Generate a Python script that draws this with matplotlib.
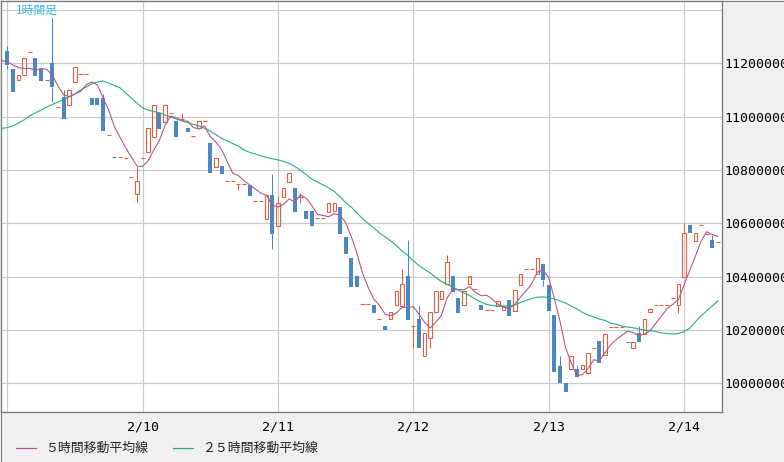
import numpy as np
import pandas as pd
import matplotlib.pyplot as plt
from matplotlib.patches import Rectangle
from matplotlib.lines import Line2D

# ==========================================
# Data : hourly candles from 2/9 00:00 (thousand yen)
# ==========================================

opens = [
    11246, 11179, 11136, 11155, 11242, 11220, 11179, 11138, 11202, 11035,
    11073, 11043, 11130, 11160, 11160, 11071, 11071, 11071, 10930, 10849,
    10848, 10844, 10773, 10709, 10844, 10868, 10925, 11015, 10981, 11013,
    10985, 10988, 10958, 10928, 10956, 10983, 10902, 10812, 10815, 10759,
    10759, 10748, 10748, 10744, 10683, 10683, 10617, 10706, 10591, 10700,
    10756, 10733, 10697, 10648, 10648, 10621, 10621, 10644, 10648, 10660,
    10549, 10471, 10403, 10296, 10296, 10294, 10241, 10215, 10240, 10293,
    10291, 10403, 10215, 10241, 10103, 10169, 10268, 10318, 10373, 10403,
    10320, 10293, 10372, 10353, 10294, 10275, 10275, 10291, 10275, 10313,
    10272, 10368, 10428, 10428, 10410, 10448, 10369, 10256, 10066, 10003,
    10053, 10054, 10053, 10038, 10134, 10159, 10106, 10213, 10213, 10213,
    10157, 10131, 10188, 10184, 10266, 10294, 10294, 10294, 10319, 10293,
    10400, 10594, 10535, 10594, 10560, 10538, 10531,
]
highs = [
    11265, 11179, 11156, 11219, 11242, 11220, 11179, 11138, 11371, 11035,
    11100, 11100, 11188, 11160, 11160, 11071, 11071, 11084, 10930, 10849,
    10848, 10844, 10773, 10815, 10844, 10956, 11044, 11015, 11043, 11013,
    10985, 11014, 10958, 10928, 10983, 10983, 10902, 10844, 10815, 10759,
    10759, 10748, 10748, 10744, 10683, 10683, 10706, 10785, 10703, 10731,
    10788, 10733, 10713, 10648, 10648, 10621, 10621, 10675, 10675, 10660,
    10549, 10471, 10403, 10296, 10296, 10294, 10241, 10215, 10266, 10345,
    10428, 10538, 10215, 10294, 10188, 10266, 10346, 10346, 10483, 10403,
    10320, 10346, 10403, 10353, 10294, 10275, 10275, 10310, 10291, 10313,
    10350, 10410, 10428, 10428, 10469, 10448, 10369, 10256, 10103, 10003,
    10103, 10069, 10069, 10113, 10134, 10159, 10184, 10213, 10213, 10213,
    10157, 10156, 10215, 10241, 10279, 10294, 10294, 10294, 10319, 10372,
    10603, 10594, 10563, 10594, 10560, 10556, 10531,
]
lows = [
    11179, 11094, 11136, 11155, 11242, 11154, 11135, 11138, 11056, 11035,
    10990, 11043, 11130, 11160, 11160, 11043, 11043, 10948, 10930, 10848,
    10848, 10844, 10773, 10681, 10844, 10868, 10925, 10954, 10981, 11013,
    10925, 10988, 10943, 10928, 10956, 10983, 10790, 10812, 10786, 10759,
    10759, 10725, 10748, 10704, 10683, 10683, 10617, 10504, 10591, 10700,
    10756, 10644, 10675, 10616, 10591, 10621, 10621, 10644, 10648, 10560,
    10485, 10360, 10363, 10296, 10296, 10265, 10241, 10200, 10240, 10293,
    10291, 10238, 10131, 10131, 10103, 10131, 10268, 10318, 10373, 10343,
    10265, 10293, 10372, 10353, 10275, 10275, 10275, 10291, 10275, 10253,
    10272, 10368, 10428, 10428, 10410, 10366, 10272, 10043, 10000, 9968,
    10053, 10025, 10053, 10038, 10134, 10078, 10106, 10213, 10213, 10213,
    10156, 10131, 10156, 10184, 10266, 10294, 10294, 10294, 10319, 10265,
    10400, 10563, 10535, 10594, 10560, 10509, 10531,
]
closes = [
    11194, 11094, 11156, 11219, 11242, 11154, 11135, 11138, 11111, 11035,
    10990, 11100, 11188, 11160, 11160, 11043, 11043, 10948, 10930, 10848,
    10848, 10844, 10773, 10759, 10844, 10956, 11044, 10954, 11043, 11013,
    10925, 10990, 10943, 10928, 10983, 10983, 10790, 10844, 10786, 10759,
    10759, 10748, 10748, 10704, 10683, 10683, 10706, 10560, 10675, 10731,
    10788, 10644, 10697, 10616, 10591, 10621, 10621, 10675, 10675, 10560,
    10485, 10360, 10363, 10296, 10296, 10265, 10241, 10200, 10266, 10345,
    10373, 10238, 10215, 10131, 10188, 10266, 10346, 10346, 10456, 10343,
    10265, 10346, 10403, 10353, 10275, 10275, 10275, 10310, 10291, 10253,
    10350, 10410, 10428, 10428, 10469, 10388, 10272, 10043, 10000, 9968,
    10103, 10025, 10069, 10113, 10134, 10078, 10184, 10213, 10213, 10213,
    10156, 10156, 10156, 10241, 10279, 10294, 10294, 10294, 10319, 10372,
    10563, 10563, 10563, 10594, 10560, 10509, 10531,
]

# 5h MA before enough candles exist (hours -1..3)
ma5_head = [11211, 11205, 11194, 11184, 11180]

# 25h MA, hours -1..126
ma25 = [
    10956,
    10959, 10965, 10976, 10988, 11003, 11014, 11025, 11036, 11046, 11055,
    11064, 11074, 11085, 11100, 11111, 11123, 11130, 11134, 11126, 11117,
    11108, 11089, 11070, 11051, 11033, 11025, 11019, 11015, 11006, 10999,
    10991, 10984, 10978, 10971, 10965, 10956, 10946, 10933, 10919, 10909,
    10899, 10890, 10875, 10866, 10860, 10853, 10847, 10842, 10838, 10832,
    10825, 10813, 10800, 10783, 10766, 10755, 10744, 10733, 10719, 10700,
    10678, 10661, 10639, 10618, 10599, 10583, 10564, 10549, 10534, 10517,
    10496, 10481, 10459, 10442, 10427, 10414, 10397, 10382, 10371, 10361,
    10350, 10339, 10329, 10316, 10305, 10296, 10292, 10290, 10290, 10290,
    10294, 10303, 10311, 10318, 10323, 10324, 10322, 10316, 10309, 10301,
    10290, 10279, 10266, 10256, 10249, 10241, 10236, 10226, 10221, 10215,
    10211, 10208, 10204, 10200, 10198, 10194, 10189, 10187, 10185, 10187,
    10194, 10206, 10230, 10253, 10271, 10290, 10309,
]

day_ticks = [24, 48, 72, 96, 120]
day_labels = ["2/10", "2/11", "2/12", "2/13", "2/14"]
price_ticks = [10000000, 10200000, 10400000, 10600000, 10800000, 11000000, 11200000]

# ==========================================
# Prepare series
# ==========================================

o = np.array(opens) * 1000
h = np.array(highs) * 1000
l = np.array(lows) * 1000
c = np.array(closes) * 1000
hours = np.arange(len(c))

ma5 = pd.Series(c).rolling(5).mean()
ma5_line = np.concatenate([np.array(ma5_head) * 1000, ma5.values[4:]])
ma25_line = np.array(ma25) * 1000
ma_hours = np.arange(-1, len(c))

RED = "#e0603e"
BLUE = "#4b88c3"
MA5_COL = "#b3578a"
MA25_COL = "#22b07a"
GRID = "#cbcbcb"
PX = 0.72  # one pixel in points

# ==========================================
# Figure
# ==========================================

fig = plt.figure(figsize=(7.84, 4.62), dpi=100, facecolor="#f0f0f0")
ax = fig.add_axes([1 / 784, 50 / 462, 721 / 784, 411 / 462])
ax.set_facecolor("white")

ax.set_xlim(-1.10, 126.74)
ax.set_ylim(9892500, 11433750)

# grid
for g in range(10000000, 11500000, 200000):
    ax.axhline(g, color=GRID, lw=1.2 * PX, zorder=0)
for d in [0] + day_ticks:
    ax.axvline(d, color=GRID, lw=1.2 * PX, zorder=0)

# candles
bw = 0.62
for t, op, hi, lo, cl in zip(hours, o, h, l, c):
    col = BLUE if cl < op else RED
    top, bot = max(op, cl), min(op, cl)
    if hi > top:
        ax.vlines(t, top, hi, color=col, lw=PX, zorder=2)
    if lo < bot:
        ax.vlines(t, lo, bot, color=col, lw=PX, zorder=2)
    if top - bot < 3750:
        ax.hlines(cl, t - 0.36, t + 0.36, color=col, lw=1.1 * PX, zorder=3)
    elif cl < op:
        ax.bar(t, top - bot, bottom=bot, width=0.71, color=BLUE, lw=0, zorder=3)
    else:
        ax.bar(t, top - bot, bottom=bot, width=bw, fill=False,
               edgecolor=RED, lw=1.1 * PX, zorder=3)

# moving averages
ax.plot(ma_hours, ma25_line, color=MA25_COL, lw=1.1 * PX, zorder=4)
ax.plot(ma_hours, ma5_line, color=MA5_COL, lw=1.1 * PX, zorder=5)

# axes styling
for s in ax.spines.values():
    s.set_color("#7a7a7a")
    s.set_linewidth(1.3 * PX)

ax.set_xticks(day_ticks)
ax.set_xticklabels(day_labels, family="DejaVu Sans Mono", fontsize=9.5)
ax.yaxis.tick_right()
ax.set_yticks(price_ticks)
ax.set_yticklabels([str(p) for p in price_ticks], family="DejaVu Sans Mono", fontsize=9.5)
ax.tick_params(axis="x", length=0, pad=6)
ax.tick_params(axis="y", length=0, pad=1.5)

ax.text(15 / 721, 1 - 9 / 411, "1時間足", transform=ax.transAxes,
        family=["Noto Sans CJK JP", "DejaVu Sans"], fontsize=8.5,
        color="#3bb5e8", va="center", ha="left")

# legend at the bottom
ly = 1 - 448 / 462
fig.add_artist(Line2D([16 / 784, 36 / 784], [ly, ly], color=MA5_COL, lw=1.2 * PX))
fig.text(45 / 784, ly, "５時間移動平均線", family=["Noto Sans CJK JP", "DejaVu Sans"],
         fontsize=9.3, va="center", color="#222222")
fig.add_artist(Line2D([173 / 784, 193 / 784], [ly, ly], color=MA25_COL, lw=1.2 * PX))
fig.text(202 / 784, ly, "２５時間移動平均線", family=["Noto Sans CJK JP", "DejaVu Sans"],
         fontsize=9.3, va="center", color="#222222")

# outer frame
fig.add_artist(Rectangle((0.5 / 784, 0.5 / 462), 783 / 784, 461 / 462,
                         transform=fig.transFigure, fill=False,
                         edgecolor="#7a7a7a", lw=PX))

fig.savefig("out.png", dpi=100, facecolor=fig.get_facecolor())
